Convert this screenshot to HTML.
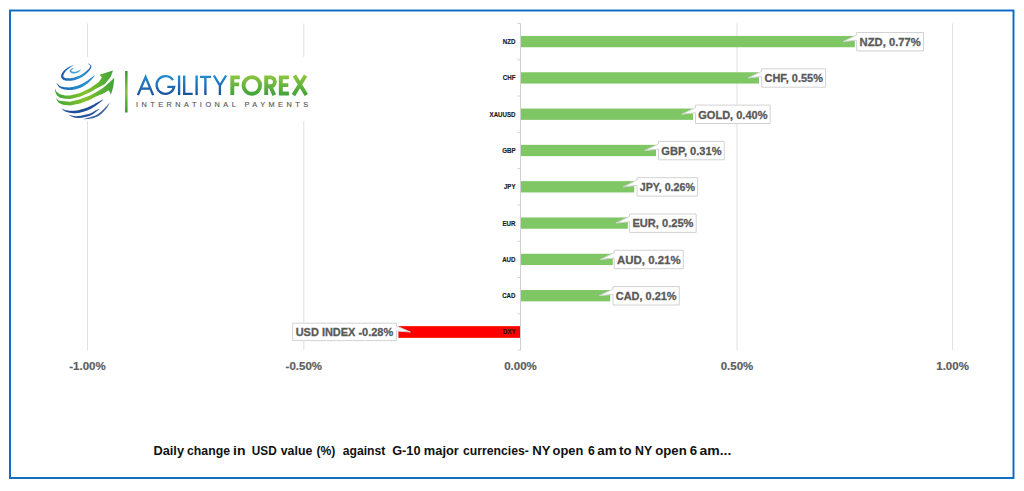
<!DOCTYPE html>
<html><head><meta charset="utf-8"><style>
html,body{margin:0;padding:0;background:#fff;width:1024px;height:491px;overflow:hidden}
svg{display:block;font-family:"Liberation Sans",sans-serif}
</style></head><body>
<svg width="1024" height="491" viewBox="0 0 1024 491">
<rect width="1024" height="491" fill="#fff"/>
<line x1="87.5" y1="23.450000000000003" x2="87.5" y2="350.15" stroke="#e0e0e0" stroke-width="1"/>
<line x1="303.8" y1="23.450000000000003" x2="303.8" y2="350.15" stroke="#e0e0e0" stroke-width="1"/>
<line x1="737" y1="23.450000000000003" x2="737" y2="350.15" stroke="#e0e0e0" stroke-width="1"/>
<line x1="952.6" y1="23.450000000000003" x2="952.6" y2="350.15" stroke="#e0e0e0" stroke-width="1"/>
<line x1="520.5" y1="23.450000000000003" x2="520.5" y2="350.15" stroke="#d0d0d0" stroke-width="1"/>
<line x1="517.5" y1="23.450000000000003" x2="520.5" y2="23.450000000000003" stroke="#d0d0d0" stroke-width="1"/>
<line x1="517.5" y1="59.75" x2="520.5" y2="59.75" stroke="#d0d0d0" stroke-width="1"/>
<line x1="517.5" y1="96.05" x2="520.5" y2="96.05" stroke="#d0d0d0" stroke-width="1"/>
<line x1="517.5" y1="132.35" x2="520.5" y2="132.35" stroke="#d0d0d0" stroke-width="1"/>
<line x1="517.5" y1="168.64999999999998" x2="520.5" y2="168.64999999999998" stroke="#d0d0d0" stroke-width="1"/>
<line x1="517.5" y1="204.95" x2="520.5" y2="204.95" stroke="#d0d0d0" stroke-width="1"/>
<line x1="517.5" y1="241.25" x2="520.5" y2="241.25" stroke="#d0d0d0" stroke-width="1"/>
<line x1="517.5" y1="277.54999999999995" x2="520.5" y2="277.54999999999995" stroke="#d0d0d0" stroke-width="1"/>
<line x1="517.5" y1="313.84999999999997" x2="520.5" y2="313.84999999999997" stroke="#d0d0d0" stroke-width="1"/>
<line x1="517.5" y1="350.15" x2="520.5" y2="350.15" stroke="#d0d0d0" stroke-width="1"/>
<rect x="521.0" y="35.95" width="333.79999999999995" height="11.3" fill="#7fc665"/>
<rect x="521.0" y="72.25" width="238.0" height="11.3" fill="#7fc665"/>
<rect x="521.0" y="108.54999999999998" width="172.0" height="11.3" fill="#7fc665"/>
<rect x="521.0" y="144.85" width="135.0" height="11.3" fill="#7fc665"/>
<rect x="521.0" y="181.14999999999998" width="113.20000000000005" height="11.3" fill="#7fc665"/>
<rect x="521.0" y="217.45" width="106.79999999999995" height="11.3" fill="#7fc665"/>
<rect x="521.0" y="253.74999999999997" width="91.79999999999995" height="11.3" fill="#7fc665"/>
<rect x="521.0" y="290.05" width="89.20000000000005" height="11.3" fill="#7fc665"/>
<rect x="398.4" y="326.15000000000003" width="121.60000000000002" height="11.700000000000001" fill="#ff0000"/>
<text transform="translate(515.5,44.00) scale(0.92,1)" text-anchor="end" font-size="6.7" font-weight="bold" fill="#1a1a1a" stroke="#1a1a1a" stroke-width="0.15">NZD</text>
<text transform="translate(515.5,80.30) scale(0.92,1)" text-anchor="end" font-size="6.7" font-weight="bold" fill="#1a1a1a" stroke="#1a1a1a" stroke-width="0.15">CHF</text>
<text transform="translate(515.5,116.60) scale(0.92,1)" text-anchor="end" font-size="6.7" font-weight="bold" fill="#1a1a1a" stroke="#1a1a1a" stroke-width="0.15">XAUUSD</text>
<text transform="translate(515.5,152.90) scale(0.92,1)" text-anchor="end" font-size="6.7" font-weight="bold" fill="#1a1a1a" stroke="#1a1a1a" stroke-width="0.15">GBP</text>
<text transform="translate(515.5,189.20) scale(0.92,1)" text-anchor="end" font-size="6.7" font-weight="bold" fill="#1a1a1a" stroke="#1a1a1a" stroke-width="0.15">JPY</text>
<text transform="translate(515.5,225.50) scale(0.92,1)" text-anchor="end" font-size="6.7" font-weight="bold" fill="#1a1a1a" stroke="#1a1a1a" stroke-width="0.15">EUR</text>
<text transform="translate(515.5,261.80) scale(0.92,1)" text-anchor="end" font-size="6.7" font-weight="bold" fill="#1a1a1a" stroke="#1a1a1a" stroke-width="0.15">AUD</text>
<text transform="translate(515.5,298.10) scale(0.92,1)" text-anchor="end" font-size="6.7" font-weight="bold" fill="#1a1a1a" stroke="#1a1a1a" stroke-width="0.15">CAD</text>
<text transform="translate(515.5,334.40) scale(0.92,1)" text-anchor="end" font-size="6.7" font-weight="bold" fill="#1a1a1a" stroke="#1a1a1a" stroke-width="0.15">DXY</text>
<path d="M856.7,32.5 L923.5,32.5 L923.5,50.900000000000006 L856.7,50.900000000000006 L856.7,40.2 L843.0,41.6 L856.7,35.0 Z" fill="#fff" stroke="#d2d2d2" stroke-width="1"/>
<text x="859.5" y="45.9" font-size="11.3" font-weight="bold" fill="#595959" stroke="#595959" stroke-width="0.3" textLength="61.299999999999955" lengthAdjust="spacingAndGlyphs">NZD, 0.77%</text>
<path d="M761.7,68.80000000000001 L825.6,68.80000000000001 L825.6,87.2 L761.7,87.2 L761.7,76.50000000000001 L748.0,77.9 L761.7,71.30000000000001 Z" fill="#fff" stroke="#d2d2d2" stroke-width="1"/>
<text x="764.5" y="82.2" font-size="11.3" font-weight="bold" fill="#595959" stroke="#595959" stroke-width="0.3" textLength="58.39999999999998" lengthAdjust="spacingAndGlyphs">CHF, 0.55%</text>
<path d="M695.5,105.1 L770.2,105.1 L770.2,123.49999999999999 L695.5,123.49999999999999 L695.5,112.8 L681.8,114.19999999999999 L695.5,107.6 Z" fill="#fff" stroke="#d2d2d2" stroke-width="1"/>
<text x="698.3" y="118.49999999999999" font-size="11.3" font-weight="bold" fill="#595959" stroke="#595959" stroke-width="0.3" textLength="69.20000000000005" lengthAdjust="spacingAndGlyphs">GOLD, 0.40%</text>
<path d="M658.5,141.4 L724.2,141.4 L724.2,159.8 L658.5,159.8 L658.5,149.1 L644.8,150.5 L658.5,143.9 Z" fill="#fff" stroke="#d2d2d2" stroke-width="1"/>
<text x="661.3" y="154.8" font-size="11.3" font-weight="bold" fill="#595959" stroke="#595959" stroke-width="0.3" textLength="60.200000000000045" lengthAdjust="spacingAndGlyphs">GBP, 0.31%</text>
<path d="M637,177.7 L697.6,177.7 L697.6,196.1 L637,196.1 L637,185.39999999999998 L623.3,186.79999999999998 L637,180.2 Z" fill="#fff" stroke="#d2d2d2" stroke-width="1"/>
<text x="639.8" y="191.1" font-size="11.3" font-weight="bold" fill="#595959" stroke="#595959" stroke-width="0.3" textLength="55.10000000000002" lengthAdjust="spacingAndGlyphs">JPY, 0.26%</text>
<path d="M629.6,214.0 L696.2,214.0 L696.2,232.4 L629.6,232.4 L629.6,221.7 L615.9,223.1 L629.6,216.5 Z" fill="#fff" stroke="#d2d2d2" stroke-width="1"/>
<text x="632.4" y="227.4" font-size="11.3" font-weight="bold" fill="#595959" stroke="#595959" stroke-width="0.3" textLength="61.10000000000002" lengthAdjust="spacingAndGlyphs">EUR, 0.25%</text>
<path d="M614.2,250.29999999999998 L683.3,250.29999999999998 L683.3,268.7 L614.2,268.7 L614.2,258.0 L600.5,259.4 L614.2,252.79999999999998 Z" fill="#fff" stroke="#d2d2d2" stroke-width="1"/>
<text x="617.0" y="263.7" font-size="11.3" font-weight="bold" fill="#595959" stroke="#595959" stroke-width="0.3" textLength="63.59999999999991" lengthAdjust="spacingAndGlyphs">AUD, 0.21%</text>
<path d="M613,286.59999999999997 L679.3,286.59999999999997 L679.3,305.0 L613,305.0 L613,294.29999999999995 L599.3,295.7 L613,289.09999999999997 Z" fill="#fff" stroke="#d2d2d2" stroke-width="1"/>
<text x="615.8" y="300.0" font-size="11.3" font-weight="bold" fill="#595959" stroke="#595959" stroke-width="0.3" textLength="60.799999999999955" lengthAdjust="spacingAndGlyphs">CAD, 0.21%</text>
<path d="M292.6,323.2 L396.5,323.2 L396.5,326 L410.3,332 L396.5,330.9 L396.5,340.6 L292.6,340.6 Z" fill="#fff" stroke="#d2d2d2" stroke-width="1"/>
<text x="295.7" y="336.3" font-size="11.3" font-weight="bold" fill="#595959" stroke="#595959" stroke-width="0.3" textLength="97.5" lengthAdjust="spacingAndGlyphs">USD INDEX -0.28%</text>
<text x="87.5" y="370.1" text-anchor="middle" font-size="11.5" font-weight="bold" fill="#5e5e5e" stroke="#5e5e5e" stroke-width="0.2">-1.00%</text>
<text x="303.8" y="370.1" text-anchor="middle" font-size="11.5" font-weight="bold" fill="#5e5e5e" stroke="#5e5e5e" stroke-width="0.2">-0.50%</text>
<text x="520.5" y="370.1" text-anchor="middle" font-size="11.5" font-weight="bold" fill="#5e5e5e" stroke="#5e5e5e" stroke-width="0.2">0.00%</text>
<text x="737" y="370.1" text-anchor="middle" font-size="11.5" font-weight="bold" fill="#5e5e5e" stroke="#5e5e5e" stroke-width="0.2">0.50%</text>
<text x="952.6" y="370.1" text-anchor="middle" font-size="11.5" font-weight="bold" fill="#5e5e5e" stroke="#5e5e5e" stroke-width="0.2">1.00%</text>
<g font-size="12.5" font-weight="bold" fill="#111"><text transform="translate(153.44,454.7) scale(1.0250,1)">Daily</text><text transform="translate(187.02,454.7) scale(0.9825,1)">change</text><text transform="translate(233.02,454.7) scale(1.1202,1)">in</text><text transform="translate(251.79,454.7) scale(0.9438,1)">USD</text><text transform="translate(280.75,454.7) scale(0.9877,1)">value</text><text transform="translate(316.39,454.7) scale(0.9787,1)">(%)</text><text transform="translate(342.75,454.7) scale(0.9757,1)">against</text><text transform="translate(392.18,454.7) scale(1.0201,1)">G-10</text><text transform="translate(423.85,454.7) scale(1.0295,1)">major</text><text transform="translate(462.92,454.7) scale(0.9787,1)">currencies-</text><text transform="translate(532.32,454.7) scale(1.0536,1)">NY</text><text transform="translate(552.60,454.7) scale(1.0315,1)">open</text><text transform="translate(588.05,454.7) scale(0.9772,1)">6</text><text transform="translate(597.31,454.7) scale(1.0753,1)">am</text><text transform="translate(619.04,454.7) scale(1.0571,1)">to</text><text transform="translate(635.07,454.7) scale(0.9862,1)">NY</text><text transform="translate(655.29,454.7) scale(1.0524,1)">open</text><text transform="translate(689.71,454.7) scale(1.0600,1)">6</text><text transform="translate(699.39,454.7) scale(1.1224,1)">am...</text></g>
<rect x="10" y="10.5" width="1003.5" height="467.5" fill="none" stroke="#0868c2" stroke-width="1.9"/>

<g id="logo">
<defs>
<linearGradient id="gb" gradientUnits="userSpaceOnUse" x1="0" y1="75" x2="0" y2="95.5"><stop offset="0" stop-color="#228fd2"/><stop offset="1" stop-color="#1a4f9c"/></linearGradient>
<linearGradient id="gg" gradientUnits="userSpaceOnUse" x1="0" y1="75" x2="0" y2="95.5"><stop offset="0" stop-color="#8fc640"/><stop offset="1" stop-color="#3ea33a"/></linearGradient>
<linearGradient id="gglobe" gradientUnits="userSpaceOnUse" x1="55" y1="0" x2="114" y2="0"><stop offset="0" stop-color="#3fa53a"/><stop offset="0.5" stop-color="#84c22a"/><stop offset="1" stop-color="#3ea43a"/></linearGradient>
<linearGradient id="ga2" gradientUnits="userSpaceOnUse" x1="60" y1="0" x2="92" y2="0"><stop offset="0" stop-color="#1c56a2"/><stop offset="0.65" stop-color="#2a95d3"/><stop offset="1" stop-color="#1f5aa5"/></linearGradient>
<linearGradient id="ga3" gradientUnits="userSpaceOnUse" x1="57" y1="0" x2="95" y2="0"><stop offset="0" stop-color="#1d5ea9"/><stop offset="0.5" stop-color="#2388cb"/><stop offset="1" stop-color="#2a8fd0"/></linearGradient>
<linearGradient id="gbar" x1="0" y1="0" x2="0" y2="1"><stop offset="0" stop-color="#3a9d3a"/><stop offset="0.5" stop-color="#8cc43e"/><stop offset="1" stop-color="#3a9d3a"/></linearGradient>
</defs>
<rect x="40" y="57" width="275" height="64" fill="#fff"/>
<path d="M73.83,67.87 L73.64,67.97 L73.34,68.06 L72.99,68.16 L72.60,68.29 L72.20,68.43 L71.81,68.60 L71.46,68.78 L71.15,68.97 L70.89,69.15 L70.64,69.34 L70.39,69.54 L70.15,69.77 L69.94,70.04 L69.76,70.36 L69.66,70.77 L69.70,71.22 L69.87,71.60 L70.10,71.93 L70.38,72.22 L70.70,72.50 L71.05,72.75 L71.44,72.98 L71.86,73.17 L72.29,73.32 L72.75,73.41 L73.23,73.47 L73.72,73.49 L74.22,73.48 L74.73,73.44 L75.23,73.37 L75.72,73.28 L76.18,73.17 L76.64,73.03 L77.08,72.85 L77.50,72.64 L77.90,72.42 L78.28,72.18 L78.64,71.94 L78.98,71.70 L79.29,71.45 L79.60,71.19 L79.90,70.90 L80.17,70.60 L80.41,70.31 L80.62,70.02 L80.80,69.75 L80.95,69.54 L81.10,69.41 L80.90,69.19 L80.75,69.32 L80.53,69.47 L80.26,69.63 L79.97,69.82 L79.66,70.02 L79.34,70.21 L79.02,70.39 L78.71,70.55 L78.38,70.70 L78.02,70.86 L77.66,71.03 L77.29,71.18 L76.91,71.32 L76.54,71.45 L76.18,71.55 L75.82,71.63 L75.44,71.69 L75.02,71.73 L74.59,71.77 L74.16,71.79 L73.74,71.79 L73.35,71.77 L73.00,71.74 L72.71,71.68 L72.44,71.61 L72.16,71.50 L71.89,71.36 L71.63,71.21 L71.41,71.06 L71.23,70.91 L71.13,70.80 L71.10,70.78 L71.09,70.84 L71.08,70.84 L71.11,70.76 L71.19,70.61 L71.31,70.44 L71.48,70.24 L71.67,70.03 L71.85,69.83 L72.05,69.63 L72.31,69.41 L72.62,69.16 L72.94,68.91 L73.25,68.67 L73.54,68.43 L73.78,68.24 L73.97,68.13 Z" fill="#3b9ed8"/>
<path d="M73.33,65.07 L72.92,65.29 L72.33,65.49 L71.63,65.75 L70.86,66.05 L70.06,66.40 L69.26,66.77 L68.50,67.16 L67.82,67.55 L67.19,67.95 L66.57,68.38 L65.97,68.82 L65.38,69.28 L64.82,69.75 L64.29,70.23 L63.80,70.71 L63.35,71.20 L62.94,71.70 L62.57,72.22 L62.24,72.75 L61.95,73.27 L61.70,73.80 L61.49,74.31 L61.32,74.82 L61.20,75.31 L61.13,75.79 L61.10,76.27 L61.14,76.74 L61.23,77.21 L61.38,77.66 L61.59,78.08 L61.85,78.48 L62.16,78.84 L62.50,79.16 L62.89,79.46 L63.31,79.73 L63.78,79.98 L64.28,80.19 L64.82,80.37 L65.40,80.53 L66.03,80.64 L66.72,80.73 L67.47,80.77 L68.26,80.79 L69.08,80.79 L69.91,80.76 L70.70,80.72 L71.46,80.66 L72.14,80.59 L72.75,80.52 L73.29,80.43 L73.81,80.33 L74.30,80.22 L74.79,80.08 L75.30,79.91 L75.84,79.72 L76.44,79.50 L77.11,79.25 L77.85,78.96 L78.63,78.64 L79.45,78.29 L80.28,77.91 L81.11,77.50 L81.92,77.06 L82.70,76.59 L83.45,76.08 L84.19,75.53 L84.91,74.94 L85.61,74.35 L86.28,73.74 L86.91,73.15 L87.49,72.59 L88.02,72.06 L88.50,71.57 L88.94,71.08 L89.34,70.61 L89.70,70.15 L90.03,69.70 L90.32,69.27 L90.57,68.84 L90.78,68.43 L90.96,68.03 L91.11,67.64 L91.22,67.26 L91.30,66.88 L91.32,66.49 L91.29,66.11 L91.19,65.74 L91.02,65.37 L90.74,65.02 L90.37,64.71 L89.94,64.44 L89.49,64.19 L89.05,63.98 L88.63,63.80 L88.30,63.62 L88.08,63.48 L87.92,63.72 L88.14,63.88 L88.44,64.10 L88.79,64.39 L89.16,64.70 L89.52,65.01 L89.83,65.32 L90.06,65.60 L90.18,65.83 L90.23,66.02 L90.25,66.23 L90.23,66.44 L90.18,66.66 L90.09,66.91 L89.97,67.17 L89.81,67.46 L89.62,67.77 L89.39,68.10 L89.14,68.43 L88.84,68.78 L88.51,69.14 L88.14,69.51 L87.73,69.91 L87.28,70.31 L86.78,70.74 L86.23,71.19 L85.63,71.69 L84.98,72.21 L84.30,72.73 L83.60,73.25 L82.89,73.74 L82.19,74.20 L81.50,74.61 L80.80,74.98 L80.05,75.34 L79.28,75.69 L78.49,76.01 L77.70,76.32 L76.94,76.60 L76.22,76.86 L75.56,77.10 L74.98,77.30 L74.49,77.47 L74.06,77.60 L73.66,77.71 L73.27,77.80 L72.86,77.87 L72.40,77.94 L71.86,78.01 L71.23,78.07 L70.53,78.13 L69.78,78.18 L69.02,78.21 L68.26,78.23 L67.55,78.23 L66.91,78.20 L66.37,78.16 L65.92,78.08 L65.50,77.99 L65.12,77.88 L64.79,77.75 L64.49,77.61 L64.24,77.46 L64.02,77.31 L63.84,77.16 L63.70,77.02 L63.60,76.88 L63.51,76.73 L63.45,76.58 L63.40,76.41 L63.38,76.20 L63.37,75.97 L63.40,75.69 L63.45,75.37 L63.55,75.01 L63.68,74.60 L63.85,74.18 L64.05,73.73 L64.29,73.29 L64.55,72.84 L64.85,72.40 L65.19,71.95 L65.59,71.49 L66.02,71.01 L66.50,70.52 L66.99,70.04 L67.51,69.56 L68.05,69.10 L68.58,68.65 L69.16,68.20 L69.83,67.73 L70.53,67.26 L71.25,66.78 L71.94,66.33 L72.55,65.92 L73.06,65.55 L73.47,65.33 Z" fill="url(#ga2)"/>
<path d="M56.68,83.29 L56.91,83.61 L57.12,84.11 L57.40,84.68 L57.74,85.31 L58.15,85.96 L58.63,86.60 L59.17,87.19 L59.79,87.70 L60.45,88.10 L61.17,88.45 L61.92,88.74 L62.70,89.00 L63.50,89.22 L64.30,89.41 L65.08,89.57 L65.85,89.72 L66.59,89.84 L67.33,89.95 L68.08,90.03 L68.84,90.08 L69.63,90.11 L70.45,90.09 L71.32,90.03 L72.22,89.93 L73.17,89.78 L74.18,89.60 L75.23,89.38 L76.30,89.12 L77.38,88.81 L78.47,88.47 L79.54,88.08 L80.57,87.66 L81.56,87.20 L82.53,86.71 L83.48,86.18 L84.42,85.61 L85.35,85.01 L86.27,84.36 L87.18,83.67 L88.10,82.93 L89.07,82.07 L90.08,81.08 L91.09,80.02 L92.07,78.93 L92.98,77.86 L93.78,76.88 L94.41,76.03 L94.90,75.41 L94.70,75.19 L94.05,75.64 L93.16,76.24 L92.15,76.99 L91.05,77.84 L89.91,78.72 L88.77,79.59 L87.69,80.39 L86.70,81.07 L85.77,81.67 L84.86,82.23 L83.95,82.76 L83.05,83.25 L82.15,83.72 L81.25,84.15 L80.35,84.56 L79.43,84.94 L78.49,85.30 L77.52,85.63 L76.53,85.94 L75.53,86.22 L74.53,86.48 L73.57,86.71 L72.64,86.90 L71.78,87.07 L70.99,87.20 L70.25,87.29 L69.56,87.35 L68.88,87.38 L68.22,87.38 L67.55,87.37 L66.86,87.33 L66.15,87.28 L65.42,87.23 L64.66,87.16 L63.91,87.08 L63.17,86.97 L62.46,86.85 L61.79,86.70 L61.16,86.51 L60.61,86.30 L60.10,86.03 L59.58,85.65 L59.05,85.19 L58.53,84.70 L58.04,84.21 L57.59,83.77 L57.19,83.40 L56.92,83.11 Z" fill="url(#ga3)"/>
<path d="M55.00,88.60 L56.50,91.80 L60.00,94.30 L65.00,95.40 L70.00,95.60 L80.00,93.10 L90.00,88.20 L96.00,84.00 L98.80,81.90 L101.90,77.40 L99.50,74.70 L113.00,70.50 L110.90,76.40 L105.00,84.00 L96.00,88.80 L90.00,92.30 L80.00,96.80 L70.00,98.90 L65.00,98.70 L60.00,97.70 L57.00,95.60 L55.30,92.00 Z" fill="url(#gglobe)"/>
<path d="M56.30,97.80 L58.00,100.20 L61.00,101.00 L70.00,101.80 L80.00,99.30 L90.00,95.40 L96.00,92.30 L102.90,88.10 L109.80,81.90 L114.30,77.80 L113.30,86.80 L110.90,94.70 L108.80,90.20 L102.90,93.70 L96.00,96.40 L90.00,99.70 L80.00,103.60 L70.00,105.40 L63.00,104.80 L59.00,103.00 L57.00,100.60 Z" fill="url(#gglobe)"/>
<path d="M61.81,108.62 L62.03,108.79 L62.27,109.07 L62.56,109.40 L62.90,109.77 L63.30,110.15 L63.74,110.52 L64.23,110.87 L64.76,111.18 L65.33,111.44 L65.93,111.69 L66.57,111.92 L67.25,112.14 L67.94,112.34 L68.65,112.52 L69.37,112.68 L70.08,112.82 L70.79,112.93 L71.53,113.03 L72.27,113.11 L73.03,113.17 L73.79,113.21 L74.56,113.22 L75.34,113.21 L76.11,113.18 L76.87,113.12 L77.61,113.05 L78.34,112.95 L79.08,112.83 L79.85,112.69 L80.65,112.51 L81.50,112.29 L82.40,112.04 L83.37,111.75 L84.40,111.42 L85.49,111.05 L86.61,110.65 L87.76,110.21 L88.91,109.73 L90.05,109.21 L91.17,108.65 L92.29,108.01 L93.43,107.30 L94.58,106.54 L95.70,105.76 L96.77,104.97 L97.77,104.22 L98.69,103.52 L99.49,102.91 L100.20,102.37 L100.84,101.86 L101.41,101.39 L101.91,100.96 L102.34,100.57 L102.70,100.23 L103.00,99.92 L103.28,99.72 L103.12,99.48 L102.83,99.67 L102.43,99.83 L101.97,100.04 L101.46,100.29 L100.87,100.58 L100.22,100.91 L99.50,101.28 L98.71,101.69 L97.81,102.16 L96.80,102.72 L95.71,103.34 L94.57,103.98 L93.40,104.63 L92.24,105.26 L91.11,105.84 L90.03,106.35 L88.97,106.81 L87.88,107.25 L86.78,107.66 L85.68,108.05 L84.59,108.41 L83.54,108.76 L82.54,109.07 L81.60,109.36 L80.75,109.62 L79.97,109.84 L79.25,110.02 L78.57,110.18 L77.90,110.31 L77.24,110.43 L76.58,110.53 L75.89,110.62 L75.18,110.70 L74.48,110.76 L73.78,110.81 L73.07,110.83 L72.37,110.84 L71.68,110.84 L71.00,110.82 L70.32,110.78 L69.65,110.74 L68.97,110.68 L68.29,110.60 L67.62,110.51 L66.97,110.40 L66.35,110.29 L65.76,110.16 L65.24,110.02 L64.75,109.86 L64.27,109.66 L63.80,109.43 L63.35,109.18 L62.93,108.94 L62.55,108.73 L62.22,108.55 L61.99,108.38 Z" fill="#1f4f9c"/>
<path d="M69.15,115.14 L69.59,115.32 L70.13,115.66 L70.80,116.03 L71.55,116.42 L72.37,116.81 L73.24,117.16 L74.12,117.46 L74.99,117.67 L75.84,117.81 L76.69,117.90 L77.55,117.95 L78.43,117.97 L79.33,117.94 L80.25,117.88 L81.20,117.78 L82.18,117.65 L83.22,117.48 L84.33,117.27 L85.48,117.01 L86.65,116.71 L87.81,116.38 L88.94,116.02 L90.00,115.63 L90.98,115.22 L91.89,114.77 L92.74,114.27 L93.52,113.74 L94.24,113.20 L94.90,112.67 L95.51,112.17 L96.07,111.72 L96.61,111.32 L97.13,110.96 L97.64,110.62 L98.12,110.29 L98.56,110.00 L98.96,109.72 L99.31,109.47 L99.61,109.26 L99.87,109.13 L99.73,108.87 L99.48,108.99 L99.13,109.10 L98.72,109.22 L98.25,109.37 L97.74,109.55 L97.19,109.76 L96.60,110.00 L95.99,110.28 L95.35,110.61 L94.69,110.99 L94.00,111.41 L93.30,111.84 L92.57,112.26 L91.82,112.67 L91.04,113.04 L90.22,113.38 L89.31,113.69 L88.29,114.00 L87.21,114.30 L86.10,114.59 L84.97,114.87 L83.87,115.12 L82.81,115.35 L81.82,115.55 L80.90,115.71 L80.02,115.85 L79.16,115.97 L78.34,116.06 L77.53,116.12 L76.74,116.15 L75.97,116.15 L75.21,116.13 L74.43,116.05 L73.59,115.91 L72.74,115.72 L71.89,115.51 L71.08,115.31 L70.34,115.13 L69.71,115.00 L69.25,114.86 Z" fill="#28559e"/>
<path d="M83.53,119.45 L84.33,119.34 L85.45,119.25 L86.77,119.12 L88.22,118.93 L89.71,118.71 L91.17,118.46 L92.51,118.20 L93.65,117.92 L94.60,117.64 L95.44,117.36 L96.21,117.07 L96.92,116.77 L97.59,116.44 L98.24,116.09 L98.88,115.71 L99.53,115.29 L100.20,114.81 L100.86,114.29 L101.50,113.73 L102.11,113.16 L102.69,112.58 L103.25,112.00 L103.78,111.43 L104.29,110.88 L104.78,110.34 L105.25,109.80 L105.70,109.25 L106.13,108.71 L106.54,108.17 L106.92,107.65 L107.28,107.13 L107.63,106.63 L107.96,106.12 L108.28,105.58 L108.57,105.05 L108.84,104.53 L109.08,104.04 L109.28,103.60 L109.46,103.24 L109.63,102.98 L109.37,102.82 L109.20,103.08 L108.95,103.39 L108.64,103.76 L108.30,104.17 L107.93,104.62 L107.55,105.07 L107.16,105.53 L106.77,105.97 L106.37,106.40 L105.95,106.86 L105.52,107.32 L105.07,107.79 L104.60,108.27 L104.12,108.75 L103.63,109.23 L103.11,109.72 L102.57,110.22 L102.01,110.75 L101.44,111.29 L100.86,111.82 L100.27,112.34 L99.67,112.83 L99.07,113.29 L98.47,113.71 L97.87,114.10 L97.29,114.45 L96.72,114.78 L96.13,115.08 L95.50,115.38 L94.80,115.67 L94.03,115.97 L93.15,116.28 L92.09,116.62 L90.82,116.99 L89.42,117.39 L87.98,117.79 L86.58,118.19 L85.31,118.57 L84.25,118.93 L83.47,119.15 Z" fill="#3f62a0"/>
<rect x="125" y="71" width="2.6" height="41.5" fill="url(#gbar)"/>
<g fill="none" stroke="url(#gb)" stroke-width="2.35" stroke-linejoin="miter" stroke-miterlimit="10">
<path d="M137.9,95.1 L145.6,77.0 L153.1,95.1"/>
<path d="M141.2,88.6 L150.0,88.6"/>
<path d="M173.0,80.2 A8.9,8.9 0 1 0 174.2,86.8 L167.3,86.8"/>
<path d="M179.1,75.5 V95.1"/>
<path d="M184.2,75.5 V93.8 H192.7"/>
<path d="M196.6,75.5 V95.1"/>
<path d="M200,76.8 H211 M205.4,76.8 V95.1"/>
<path d="M213.9,75.5 L219.9,85.6 L226.1,75.5 M219.9,85.6 V95.1"/>
</g>
<g fill="none" stroke="url(#gg)" stroke-width="3.9" stroke-linejoin="miter">
<path d="M232.3,95.1 V77.4 H239.8 M232.3,84.35 H239.1"/>
<circle cx="251.85" cy="85.45" r="8.3"/>
<path d="M266.2,95.1 V77.4 H270.4 A4.45,4.45 0 0 1 270.4,86.3 H266.2 M270.2,86.3 L274.3,95.1"/>
<path d="M288.9,77.4 H280.8 V93.5 H288.9 M280.8,85.1 H288.3"/>
<path d="M294.4,75.5 L306.3,95.1 M305.6,75.5 L293.4,95.1"/>
</g>
<text x="135.9" y="106.9" font-size="7.3" fill="#5a5a5a" stroke="#5a5a5a" stroke-width="0.15" textLength="172.2" lengthAdjust="spacing">INTERNATIONAL PAYMENTS</text>
</g>

</svg>
</body></html>
